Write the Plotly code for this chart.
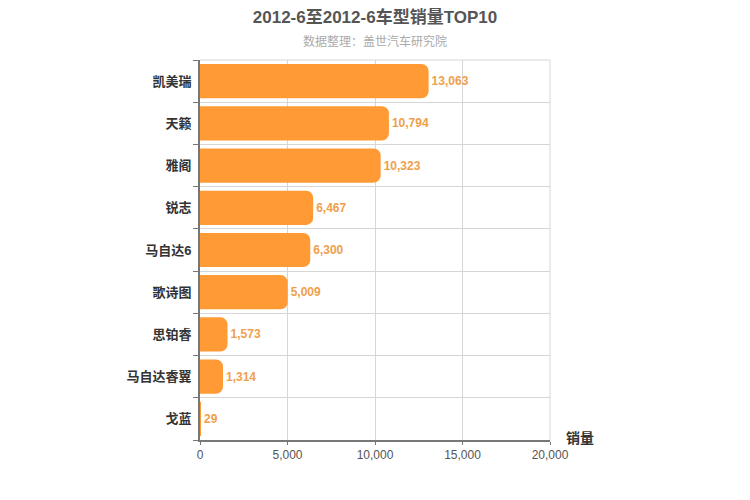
import plotly.graph_objects as go

models = ["凯美瑞", "天籁", "雅阁", "锐志", "马自达6", "歌诗图", "思铂睿", "马自达睿翼", "戈蓝"]
sales = [13063, 10794, 10323, 6467, 6300, 5009, 1573, 1314, 29]
x_ticks = [0, 5000, 10000, 15000, 20000]

font_fam = "Liberation Sans, Noto Sans CJK SC, sans-serif"

fig = go.Figure()
fig.add_trace(go.Bar(
    x=sales,
    y=models,
    orientation="h",
    marker=dict(color="#ff9a35", cornerradius=7, line=dict(width=0)),
    text=[f"<b>{v:,}</b>" for v in sales],
    textposition="outside",
    textfont=dict(color="#f0a04b", size=12, family=font_fam),
    cliponaxis=False,
    hoverinfo="skip",
))

# page body has ~8px margin, so the figure is nudged up/left to compensate
fig.update_layout(
    width=750, height=500,
    margin=dict(l=192, r=208, t=52, b=68, autoexpand=False),
    paper_bgcolor="white", plot_bgcolor="white",
    bargap=0.19,
    showlegend=False,
    font=dict(family=font_fam),
    title=dict(text="<b>2012-6至2012-6车型销量TOP10</b>", x=192 / 750 + 0.5 * 350 / 750,
               xanchor="center", y=0.982, yanchor="middle",
               font=dict(size=17, color="#555555", family=font_fam)),
    annotations=[
        dict(text="数据整理：盖世汽车研究院", xref="paper", yref="paper",
             x=0.5, y=1.0, yshift=19, xanchor="center", yanchor="middle",
             showarrow=False, font=dict(size=12, color="#aaaaaa", family=font_fam)),
        dict(text="<b>销量</b>", xref="paper", yref="paper", x=1.0, y=0,
             xshift=14, yshift=-8, xanchor="left", yanchor="bottom", showarrow=False,
             font=dict(size=14, color="#333333", family=font_fam)),
    ],
)

fig.update_xaxes(
    range=[0, 20000], tickvals=x_ticks, tickformat=",",
    showgrid=True, gridcolor="#d6d6d6", gridwidth=1,
    showline=True, linecolor="#777777", linewidth=2,
    ticks="outside", ticklen=3, tickcolor="#777777",
    mirror=False, zeroline=False, automargin=False,
    tickfont=dict(size=12, color="#555555"),
)
fig.update_yaxes(
    type="category", autorange="reversed", tickson="boundaries",
    showgrid=True, gridcolor="#d6d6d6", gridwidth=1,
    showline=True, linecolor="#777777", linewidth=2,
    ticks="outside", ticklen=5, tickcolor="#777777",
    automargin=False, ticklabelstandoff=4,
    tickfont=dict(size=13, color="#333333"),
    tickvals=models, ticktext=[f"<b>{m}</b>" for m in models],
)

# light border on top and right
fig.add_shape(type="line", xref="paper", yref="paper", x0=0, x1=1, y0=1, y1=1,
              line=dict(color="#d6d6d6", width=1))
fig.add_shape(type="line", xref="paper", yref="paper", x0=1, x1=1, y0=0, y1=1,
              line=dict(color="#d6d6d6", width=1))

fig.write_html("out.html")
